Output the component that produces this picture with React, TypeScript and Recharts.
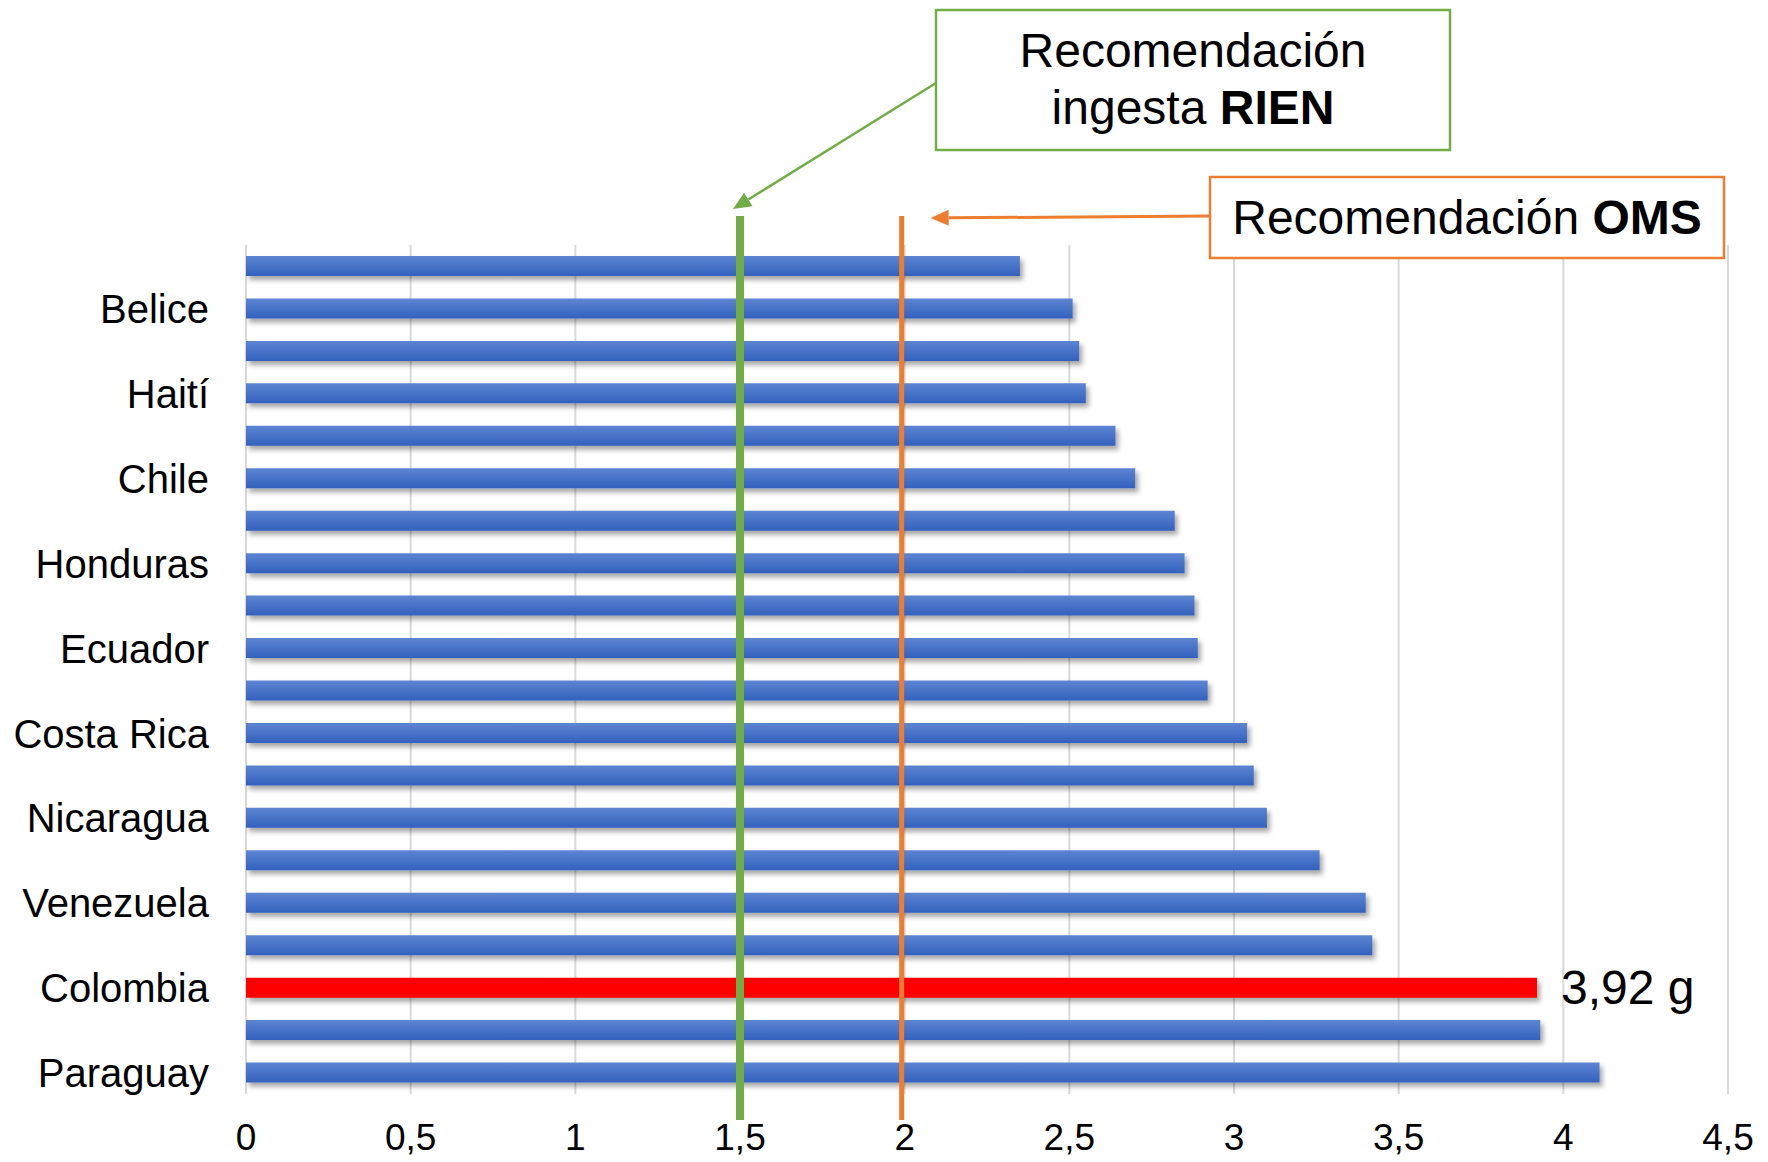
import React from "react";
import {
  BarChart,
  Bar,
  XAxis,
  YAxis,
  CartesianGrid,
  Cell,
  ReferenceLine,
  LabelList,
} from "recharts";

// countries top -> bottom, only every other one carries a visible label
const countries = [
  "Guatemala", "Belice", "El Salvador", "Haití", "Bolivia",
  "Chile", "Perú", "Honduras", "Cuba", "Ecuador",
  "Panamá", "Costa Rica", "República Dominicana", "Nicaragua", "México",
  "Venezuela", "Uruguay", "Colombia", "Brasil", "Paraguay",
];
const saltGrams = [
  2.35, 2.51, 2.53, 2.55, 2.64,
  2.70, 2.82, 2.85, 2.88, 2.89,
  2.92, 3.04, 3.06, 3.10, 3.26,
  3.40, 3.42, 3.92, 3.93, 4.11,
];
const shownLabels = [
  "Belice", "Haití", "Chile", "Honduras", "Ecuador",
  "Costa Rica", "Nicaragua", "Venezuela", "Colombia", "Paraguay",
];
const highlight = "Colombia";
const xTicks = [0, 0.5, 1, 1.5, 2, 2.5, 3, 3.5, 4, 4.5];
const rienValue = 1.5;
const omsValue = 2;

const data = countries.map((name, i) => ({ name, value: saltGrams[i] }));

const FONT = "'Liberation Sans', Arial, sans-serif";
const GREEN = "#70ad47";
const ORANGE = "#ed7d31";

const comma = (v: number) => String(v).replace(".", ",");

function Arrow({ x1, y1, x2, y2, color, width }: any) {
  const ang = Math.atan2(y2 - y1, x2 - x1);
  const len = 18;
  const hw = 8;
  const bx = x2 - len * Math.cos(ang);
  const by = y2 - len * Math.sin(ang);
  const px = -Math.sin(ang) * hw;
  const py = Math.cos(ang) * hw;
  return (
    <g>
      <line x1={x1} y1={y1} x2={bx} y2={by} stroke={color} strokeWidth={width} />
      <polygon
        points={`${x2},${y2} ${bx + px},${by + py} ${bx - px},${by - py}`}
        fill={color}
      />
    </g>
  );
}

// green line + "RIEN" callout
const RienShape = (props: any) => {
  const x = props.x1;
  const top = Math.min(props.y1, props.y2) - 29;
  const bottom = Math.max(props.y1, props.y2) + 26;
  return (
    <g>
      <line x1={x} y1={top} x2={x} y2={bottom} stroke={GREEN} strokeWidth={8} />
      <Arrow x1={936} y1={83} x2={x - 7} y2={top - 7} color={GREEN} width={2.5} />
      <rect x={936} y={10} width={514} height={140} fill="#fff" stroke={GREEN} strokeWidth={2.5} />
      <text x={1193} y={67} textAnchor="middle" fontSize={48} fontFamily={FONT} fill="#000">
        Recomendación
      </text>
      <text x={1193} y={124} textAnchor="middle" fontSize={48} fontFamily={FONT} fill="#000">
        ingesta <tspan fontWeight="bold">RIEN</tspan>
      </text>
    </g>
  );
};

// orange line + "OMS" callout
const OmsShape = (props: any) => {
  const x = props.x1 - 3;
  const top = Math.min(props.y1, props.y2) - 29;
  const bottom = Math.max(props.y1, props.y2) + 26;
  return (
    <g>
      <line x1={x} y1={top} x2={x} y2={bottom} stroke={ORANGE} strokeWidth={5} />
      <Arrow x1={1210} y1={216} x2={x + 29} y2={top + 2} color={ORANGE} width={3} />
      <rect x={1210} y={177} width={514} height={81} fill="#fff" stroke={ORANGE} strokeWidth={2.5} />
      <text x={1467} y={234} textAnchor="middle" fontSize={48} fontFamily={FONT} fill="#000">
        Recomendación <tspan fontWeight="bold">OMS</tspan>
      </text>
    </g>
  );
};

const CountryTick = ({ x, y, payload }: any) =>
  shownLabels.includes(payload.value) ? (
    <text x={x} y={y} dy="0.36em" textAnchor="end" fontSize={40} fontFamily={FONT} fill="#000">
      {payload.value}
    </text>
  ) : (
    <g />
  );

const ValueLabel = (p: any) => {
  if (data[p.index]?.name !== highlight) return null;
  return (
    <text
      x={p.x + p.width + 24}
      y={p.y + p.height / 2}
      dy="0.35em"
      fontSize={48}
      fontFamily={FONT}
      fill="#000"
    >
      {p.value.toFixed(2).replace(".", ",")} g
    </text>
  );
};

export default function App() {
  return (
    <div style={{ position: "absolute", left: 0, top: 0, background: "#fff" }}>
      <BarChart
        width={1768}
        height={1162}
        data={data}
        layout="vertical"
        margin={{ top: 245, right: 40, bottom: 0, left: 0 }}
      >
        <defs>
          <linearGradient id="barGrad" x1="0" y1="0" x2="0" y2="1">
            <stop offset="0%" stopColor="#5d85d3" />
            <stop offset="100%" stopColor="#3261bd" />
          </linearGradient>
          <filter id="barShadow" x="-5%" y="-50%" width="110%" height="220%">
            <feDropShadow dx="3" dy="4" stdDeviation="2.5" floodColor="#000" floodOpacity="0.35" />
          </filter>
        </defs>
        <CartesianGrid horizontal={false} stroke="#d9d9d9" strokeWidth={2} />
        <XAxis
          type="number"
          domain={[0, 4.5]}
          ticks={xTicks}
          tickFormatter={comma}
          axisLine={false}
          tickLine={false}
          tickSize={6}
          tickMargin={24}
          height={68}
          tick={{ fontSize: 37, fill: "#000", fontFamily: FONT }}
        />
        <YAxis
          type="category"
          dataKey="name"
          width={246}
          interval={0}
          axisLine={false}
          tickLine={false}
          tickSize={6}
          tickMargin={31}
          tick={<CountryTick />}
        />
        <Bar dataKey="value" barSize={20} isAnimationActive={false}>
          {data.map((d) => (
            <Cell
              key={d.name}
              fill={d.name === highlight ? "#ff0000" : "url(#barGrad)"}
              filter="url(#barShadow)"
            />
          ))}
          <LabelList dataKey="value" content={ValueLabel} />
        </Bar>
        <ReferenceLine x={rienValue} shape={RienShape} />
        <ReferenceLine x={omsValue} shape={OmsShape} />
      </BarChart>
    </div>
  );
}
